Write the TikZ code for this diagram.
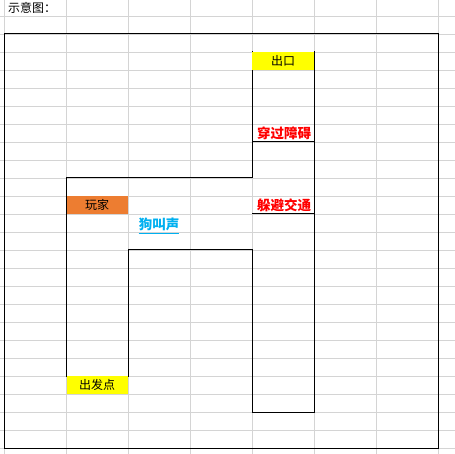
\documentclass[tikz,border=0pt]{standalone}
\usepackage{fontspec}
\newfontfamily\cjk{Noto Sans CJK SC}

\begin{document}
\begin{tikzpicture}[x=1pt,y=-1pt]
    \definecolor{cell_grid}{HTML}{d4d4d4}
    \definecolor{cell_yellow}{HTML}{ffff00}
    \definecolor{cell_orange}{HTML}{ed7d31}
    \definecolor{txt_red}{HTML}{ff0000}
    \definecolor{txt_blue}{HTML}{00b0f0}
    \tikzset{
        cell/.style={anchor=center, inner sep=0pt, font=\cjk\fontsize{12}{12}\selectfont},
        tag/.style={anchor=center, inner sep=0pt, font=\cjk\bfseries\fontsize{13.5}{13.5}\selectfont},
        wall/.style={line width=1pt, line cap=rect}
    }
    \useasboundingbox (0,0) rectangle (455,454);
    \fill[white] (0,0) rectangle (455,454);

    % sheet grid
    \foreach \x in {4.5,66.5,128,190,252,314,376,438}
        \draw[cell_grid, line width=0.8pt] (\x,0) -- (\x,454);
    \foreach \y in {16,34,...,448}
        \draw[cell_grid, line width=0.8pt] (0,\y) -- (455,\y);

    \node[anchor=west, inner sep=0pt, font=\cjk\fontsize{12}{12}\selectfont] (title) at (8,8) {示意图：};

    % frame
    \draw[wall] (4.5,34) rectangle (438,448);

    % the way from start to exit
    \draw[wall] (66.5,376) -- (66.5,178) -- (252,178) -- (252,52);
    \draw[wall] (128,376) -- (128,250) -- (252,250) -- (252,412) -- (314,412) -- (314,52);
    \draw[wall] (252,142) -- (314,142);
    \draw[wall] (252,214) -- (314,214);

    % coloured cells
    \path[fill=cell_yellow] (252,52) rectangle (314,70);
    \path[fill=cell_orange] (66.5,196) rectangle (128,214);
    \path[fill=cell_yellow] (66.5,376) rectangle (128,394);

    \node[cell] (exit) at (283,61) {出口};
    \node[cell] (player) at (97,205) {玩家};
    \node[cell] (start) at (97,385) {出发点};
    \node[tag, text=txt_red] (obstacle) at (284,133) {穿过障碍};
    \node[tag, text=txt_red] (traffic) at (284,205) {躲避交通};
    \node[tag, text=txt_blue] (bark) at (159,224) {狗叫声};
    \draw[txt_blue, line width=1pt] ([yshift=-2.5pt]bark.south west) -- ([yshift=-2.5pt]bark.south east);
\end{tikzpicture}
\end{document}
